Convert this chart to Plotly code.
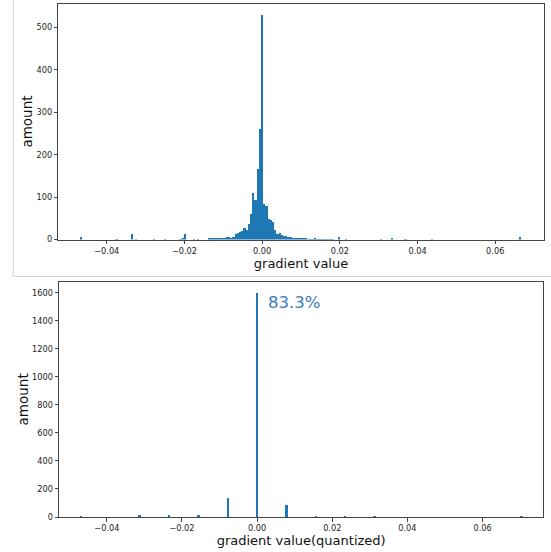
import plotly.graph_objects as go

# ---------------- data ----------------
# top: histogram of raw gradients (200 equal bins between data min and max)
hist_min = -0.0468
hist_max = 0.0668
n_bins = 200
top_counts = [
    8, 0, 0, 0, 0, 0, 0, 0, 0, 0, 0, 0, 0, 0, 0, 0, 1, 0, 0, 0,
    0, 0, 0, 14, 0, 2, 0, 0, 0, 0, 0, 0, 0, 1, 0, 0, 0, 0, 1, 0,
    0, 0, 0, 0, 0, 2, 3, 14, 0, 0, 0, 1, 0, 1, 0, 0, 0, 0, 5, 4,
    3, 3, 4, 3, 4, 5, 6, 6, 5, 7, 14, 17, 20, 22, 29, 24, 38, 62, 111, 95,
    168, 262, 530, 84, 81, 49, 46, 43, 24, 15, 16, 12, 10, 9, 7, 6, 5, 4, 4, 4,
    3, 3, 3, 2, 2, 2, 4, 1, 2, 1, 2, 2, 2, 2, 1, 0, 0, 8, 0, 0,
    1, 0, 0, 0, 0, 0, 0, 0, 0, 0, 0, 0, 0, 0, 0, 0, 1, 0, 0, 0,
    0, 5, 0, 0, 0, 0, 0, 2, 0, 0, 0, 0, 0, 0, 0, 0, 0, 0, 0, 1,
    0, 0, 0, 0, 0, 0, 0, 0, 0, 0, 0, 0, 0, 0, 0, 0, 0, 0, 0, 0,
    0, 0, 0, 0, 0, 0, 0, 0, 0, 0, 0, 0, 0, 0, 0, 0, 0, 0, 0, 8,
]

# bottom: quantized gradients (steps of 1/128)
q_levels = [-6, -4, -3, -2, -1, 0, 1, 2, 3, 4, 9]
q_counts = [8, 15, 18, 18, 140, 1600, 85, 10, 12, 7, 8]
q_step = 1 / 128
q_label = "83.3%"

x_ticks = [-0.04, -0.02, 0.0, 0.02, 0.04, 0.06]
top_y_ticks = [0, 100, 200, 300, 400, 500]
bot_y_ticks = [0, 200, 400, 600, 800, 1000, 1200, 1400, 1600]

# ---------------- derived ----------------
bw = (hist_max - hist_min) / n_bins
top_x = [hist_min + (i + 0.5) * bw for i in range(n_bins)]
q_x = [v * q_step for v in q_levels]
q_bw = (q_x[-1] - q_x[0]) / n_bins * 1.15

BLUE = "#1f77b4"
FONT = "DejaVu Sans"
W, H = 551, 552

fig = go.Figure()
fig.add_trace(go.Bar(x=top_x, y=top_counts, width=bw, marker=dict(color=BLUE, line=dict(width=0)),
                     xaxis="x", yaxis="y", showlegend=False, hoverinfo="skip"))
fig.add_trace(go.Bar(x=q_x, y=q_counts, width=q_bw, marker=dict(color=BLUE, line=dict(width=0)),
                     xaxis="x2", yaxis="y2", showlegend=False, hoverinfo="skip"))

def pad_range(lo, hi, f=0.05):
    d = (hi - lo) * f
    return [lo - d, hi + d]

axis_common = dict(
    showline=True, mirror=True, linecolor="#444", linewidth=1,
    ticks="outside", ticklen=3.5, tickwidth=1, tickcolor="#444",
    showgrid=False, zeroline=False, automargin=False,
    tickfont=dict(family=FONT, size=8.2, color="#222"),
)

fig.update_layout(
    width=W, height=H,
    margin=dict(l=0, r=0, t=0, b=0),
    paper_bgcolor="white", plot_bgcolor="white",
    bargap=0,
    xaxis=dict(axis_common, domain=[58.3 / W, 543.7 / W], range=pad_range(hist_min, hist_max),
               anchor="y", tickvals=x_ticks, tickformat=".2f",
               title=dict(text="gradient value", font=dict(family=FONT, size=13, color="#111"), standoff=3)),
    yaxis=dict(axis_common, domain=[1 - 239.5 / H, 1 - 3.5 / H], range=[0, max(top_counts) * 1.05],
               anchor="x", tickvals=top_y_ticks,
               title=dict(text="amount", font=dict(family=FONT, size=13.5, color="#111"), standoff=0)),
    xaxis2=dict(axis_common, domain=[59 / W, 543.3 / W], range=pad_range(q_x[0], q_x[-1]),
                anchor="y2", tickvals=x_ticks, tickformat=".2f",
                title=dict(text="gradient value(quantized)", font=dict(family=FONT, size=13, color="#111"), standoff=3)),
    yaxis2=dict(axis_common, domain=[1 - 517 / H, 1 - 281.7 / H], range=[0, max(q_counts) * 1.05],
                anchor="x2", tickvals=bot_y_ticks,
                title=dict(text="amount", font=dict(family=FONT, size=13.5, color="#111"), standoff=0)),
    annotations=[dict(x=0.0023, y=1530, xref="x2", yref="y2", text=q_label, showarrow=False,
                      xanchor="left", yanchor="middle",
                      font=dict(family=FONT, size=16.5, color="#3d7ab8"))],
    shapes=[
        dict(type="line", xref="paper", yref="paper", x0=13.3 / W, x1=13.3 / W, y0=1, y1=1 - 276.5 / H,
             line=dict(color="#d4d4d4", width=1)),
        dict(type="line", xref="paper", yref="paper", x0=13.3 / W, x1=1, y0=1 - 276.5 / H, y1=1 - 276.5 / H,
             line=dict(color="#d4d4d4", width=1)),
    ],
)

fig.write_html("out.html", config={"displayModeBar": False},
               post_script="document.body.style.margin='0px';document.body.style.overflow='hidden';")
